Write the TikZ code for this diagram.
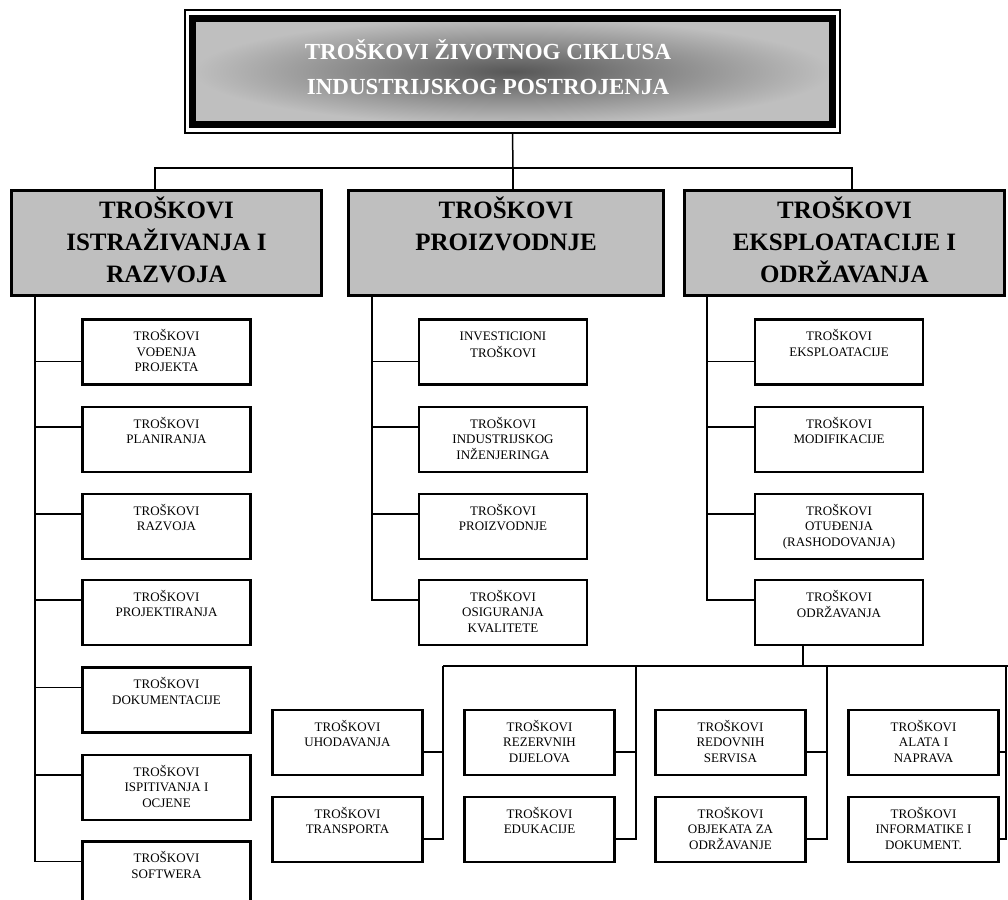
\documentclass[tikz,border=0pt]{standalone}
\usepackage{fontspec}
\setmainfont{Liberation Serif}
\newcommand{\cellt}[1]{\parbox[c][45pt][t]{150pt}{\centering\strut #1}}
\newcommand{\headt}[1]{\parbox[c][93pt][t]{300pt}{\centering\strut #1}}
\tikzset{
  frame/.style={draw, line width=1.2, minimum width=655, minimum height=123, inner sep=0},
  titlebox/.style={draw, line width=7, minimum width=640, minimum height=106, inner sep=0,
    inner color=gray!45!black!85, outer color=black!25},
  titletext/.style={text=white, align=center, font=\fontsize{23}{35}\selectfont\bfseries},
  headbox/.style={draw, line width=3, fill=black!25, minimum height=105, inner xsep=0, inner ysep=6,
    font=\fontsize{25}{32}\selectfont\bfseries},
  cellbox/.style={draw, line width=2.2, fill=white, minimum width=168, minimum height=65, inner xsep=0, inner ysep=10,
    font=\fontsize{13}{15.5}\selectfont},
  lowbox/.style={cellbox, minimum width=145},
  link/.style={line width=1.5}
}
\begin{document}
\begin{tikzpicture}[x=1pt,y=-1pt]
\useasboundingbox (0,0) rectangle (1008,899);

\node[frame] (topframe) at (512.5,71.5) {};
\node[titlebox] (top) at (512.5,71.5) {};
\node[titletext] (toptext) at (488,67) {TROŠKOVI ŽIVOTNOG CIKLUSA\\INDUSTRIJSKOG POSTROJENJA};

\node[headbox, minimum width=310] (isr) at (166.5,243) {\headt{TROŠKOVI\\ISTRAŽIVANJA I\\RAZVOJA}};
\node[headbox, minimum width=315] (pro) at (506,243) {\headt{TROŠKOVI\\PROIZVODNJE}};
\node[headbox, minimum width=320] (eks) at (844.5,243) {\headt{TROŠKOVI\\EKSPLOATACIJE I\\ODRŽAVANJA}};

\node[cellbox] (i1) at (166.5,352) {\cellt{TROŠKOVI\\VOĐENJA\\PROJEKTA}};
\node[cellbox] (i2) at (166.5,439.5) {\cellt{TROŠKOVI\\PLANIRANJA}};
\node[cellbox] (i3) at (166.5,526.5) {\cellt{TROŠKOVI\\RAZVOJA}};
\node[cellbox] (i4) at (166.5,612.5) {\cellt{TROŠKOVI\\PROJEKTIRANJA}};
\node[cellbox] (i5) at (166.5,700) {\cellt{TROŠKOVI\\DOKUMENTACIJE}};
\node[cellbox] (i6) at (166.5,787.5) {\cellt{TROŠKOVI\\ISPITIVANJA I\\OCJENE}};
\node[cellbox] (i7) at (166.5,874) {\cellt{TROŠKOVI\\SOFTWERA}};

\node[cellbox] (p1) at (503,352) {\cellt{INVESTICIONI\\TROŠKOVI}};
\node[cellbox] (p2) at (503,439.5) {\cellt{TROŠKOVI\\INDUSTRIJSKOG\\INŽENJERINGA}};
\node[cellbox] (p3) at (503,526.5) {\cellt{TROŠKOVI\\PROIZVODNJE}};
\node[cellbox] (p4) at (503,612.5) {\cellt{TROŠKOVI\\OSIGURANJA\\KVALITETE}};

\node[cellbox] (e1) at (839,352) {\cellt{TROŠKOVI\\EKSPLOATACIJE}};
\node[cellbox] (e2) at (839,439.5) {\cellt{TROŠKOVI\\MODIFIKACIJE}};
\node[cellbox] (e3) at (839,526.5) {\cellt{TROŠKOVI\\OTUĐENJA\\(RASHODOVANJA)}};
\node[cellbox] (e4) at (839,612.5) {\cellt{TROŠKOVI\\ODRŽAVANJA}};

\node[lowbox] (m1) at (347.5,742.5) {\cellt{TROŠKOVI\\UHODAVANJA}};
\node[lowbox] (m2) at (347.5,829.5) {\cellt{TROŠKOVI\\TRANSPORTA}};
\node[lowbox] (m3) at (539.5,742.5) {\cellt{TROŠKOVI\\REZERVNIH\\DIJELOVA}};
\node[lowbox] (m4) at (539.5,829.5) {\cellt{TROŠKOVI\\EDUKACIJE}};
\node[lowbox] (m5) at (730.5,742.5) {\cellt{TROŠKOVI\\REDOVNIH\\SERVISA}};
\node[lowbox] (m6) at (730.5,829.5) {\cellt{TROŠKOVI\\OBJEKATA ZA\\ODRŽAVANJE}};
\node[lowbox] (m7) at (923.5,742.5) {\cellt{TROŠKOVI\\ALATA I\\NAPRAVA}};
\node[lowbox] (m8) at (923.5,829.5) {\cellt{TROŠKOVI\\INFORMATIKE I\\DOKUMENT.}};

\coordinate (bus) at (513,168);
\coordinate (rail1) at (35,0);
\coordinate (rail2) at (372,0);
\coordinate (rail3) at (707,0);
\coordinate (k1) at (443,666);
\coordinate (k2) at (636,666);
\coordinate (k3) at (827,666);
\coordinate (k4) at (1006,666);
\coordinate (kend) at (1008,666);

\draw[link] (topframe.south) -- (bus);
\draw[link] ([xshift=-11.5]isr.north) |- (bus) -| ([xshift=7.5]eks.north);
\draw[link] (bus) -- (bus |- pro.north);

\draw[link] (rail1 |- isr.south) |- ([yshift=-21]i7.north west);
\draw[link] ([yshift=-43]i1.north west) coordinate (s) -- (s -| rail1);
\foreach \n in {2,...,6}
  \draw[link] ([yshift=-21]i\n.north west) coordinate (s) -- (s -| rail1);

\draw[link] (rail2 |- pro.south) |- ([yshift=-21]p4.north west);
\draw[link] ([yshift=-43]p1.north west) coordinate (s) -- (s -| rail2);
\foreach \n in {2,3}
  \draw[link] ([yshift=-21]p\n.north west) coordinate (s) -- (s -| rail2);

\draw[link] (rail3 |- eks.south) |- ([yshift=-21]e4.north west);
\draw[link] ([yshift=-43]e1.north west) coordinate (s) -- (s -| rail3);
\foreach \n in {2,3}
  \draw[link] ([yshift=-21]e\n.north west) coordinate (s) -- (s -| rail3);

\draw[link] ([xshift=-36]e4.south) coordinate (s) -- (s |- k3);
\draw[link] (k1) -- (kend);
\draw[link] (k1) |- ([yshift=-43]m2.north east);
\draw[link] ([yshift=-43]m1.north east) coordinate (s) -- (s -| k1);
\draw[link] (k2) |- ([yshift=-43]m4.north east);
\draw[link] ([yshift=-43]m3.north east) coordinate (s) -- (s -| k2);
\draw[link] (k3) |- ([yshift=-43]m6.north east);
\draw[link] ([yshift=-43]m5.north east) coordinate (s) -- (s -| k3);
\draw[link] (k4) |- ([yshift=-43]m8.north east);
\draw[link] ([yshift=-43]m7.north east) coordinate (s) -- (s -| k4);
\end{tikzpicture}
\end{document}
